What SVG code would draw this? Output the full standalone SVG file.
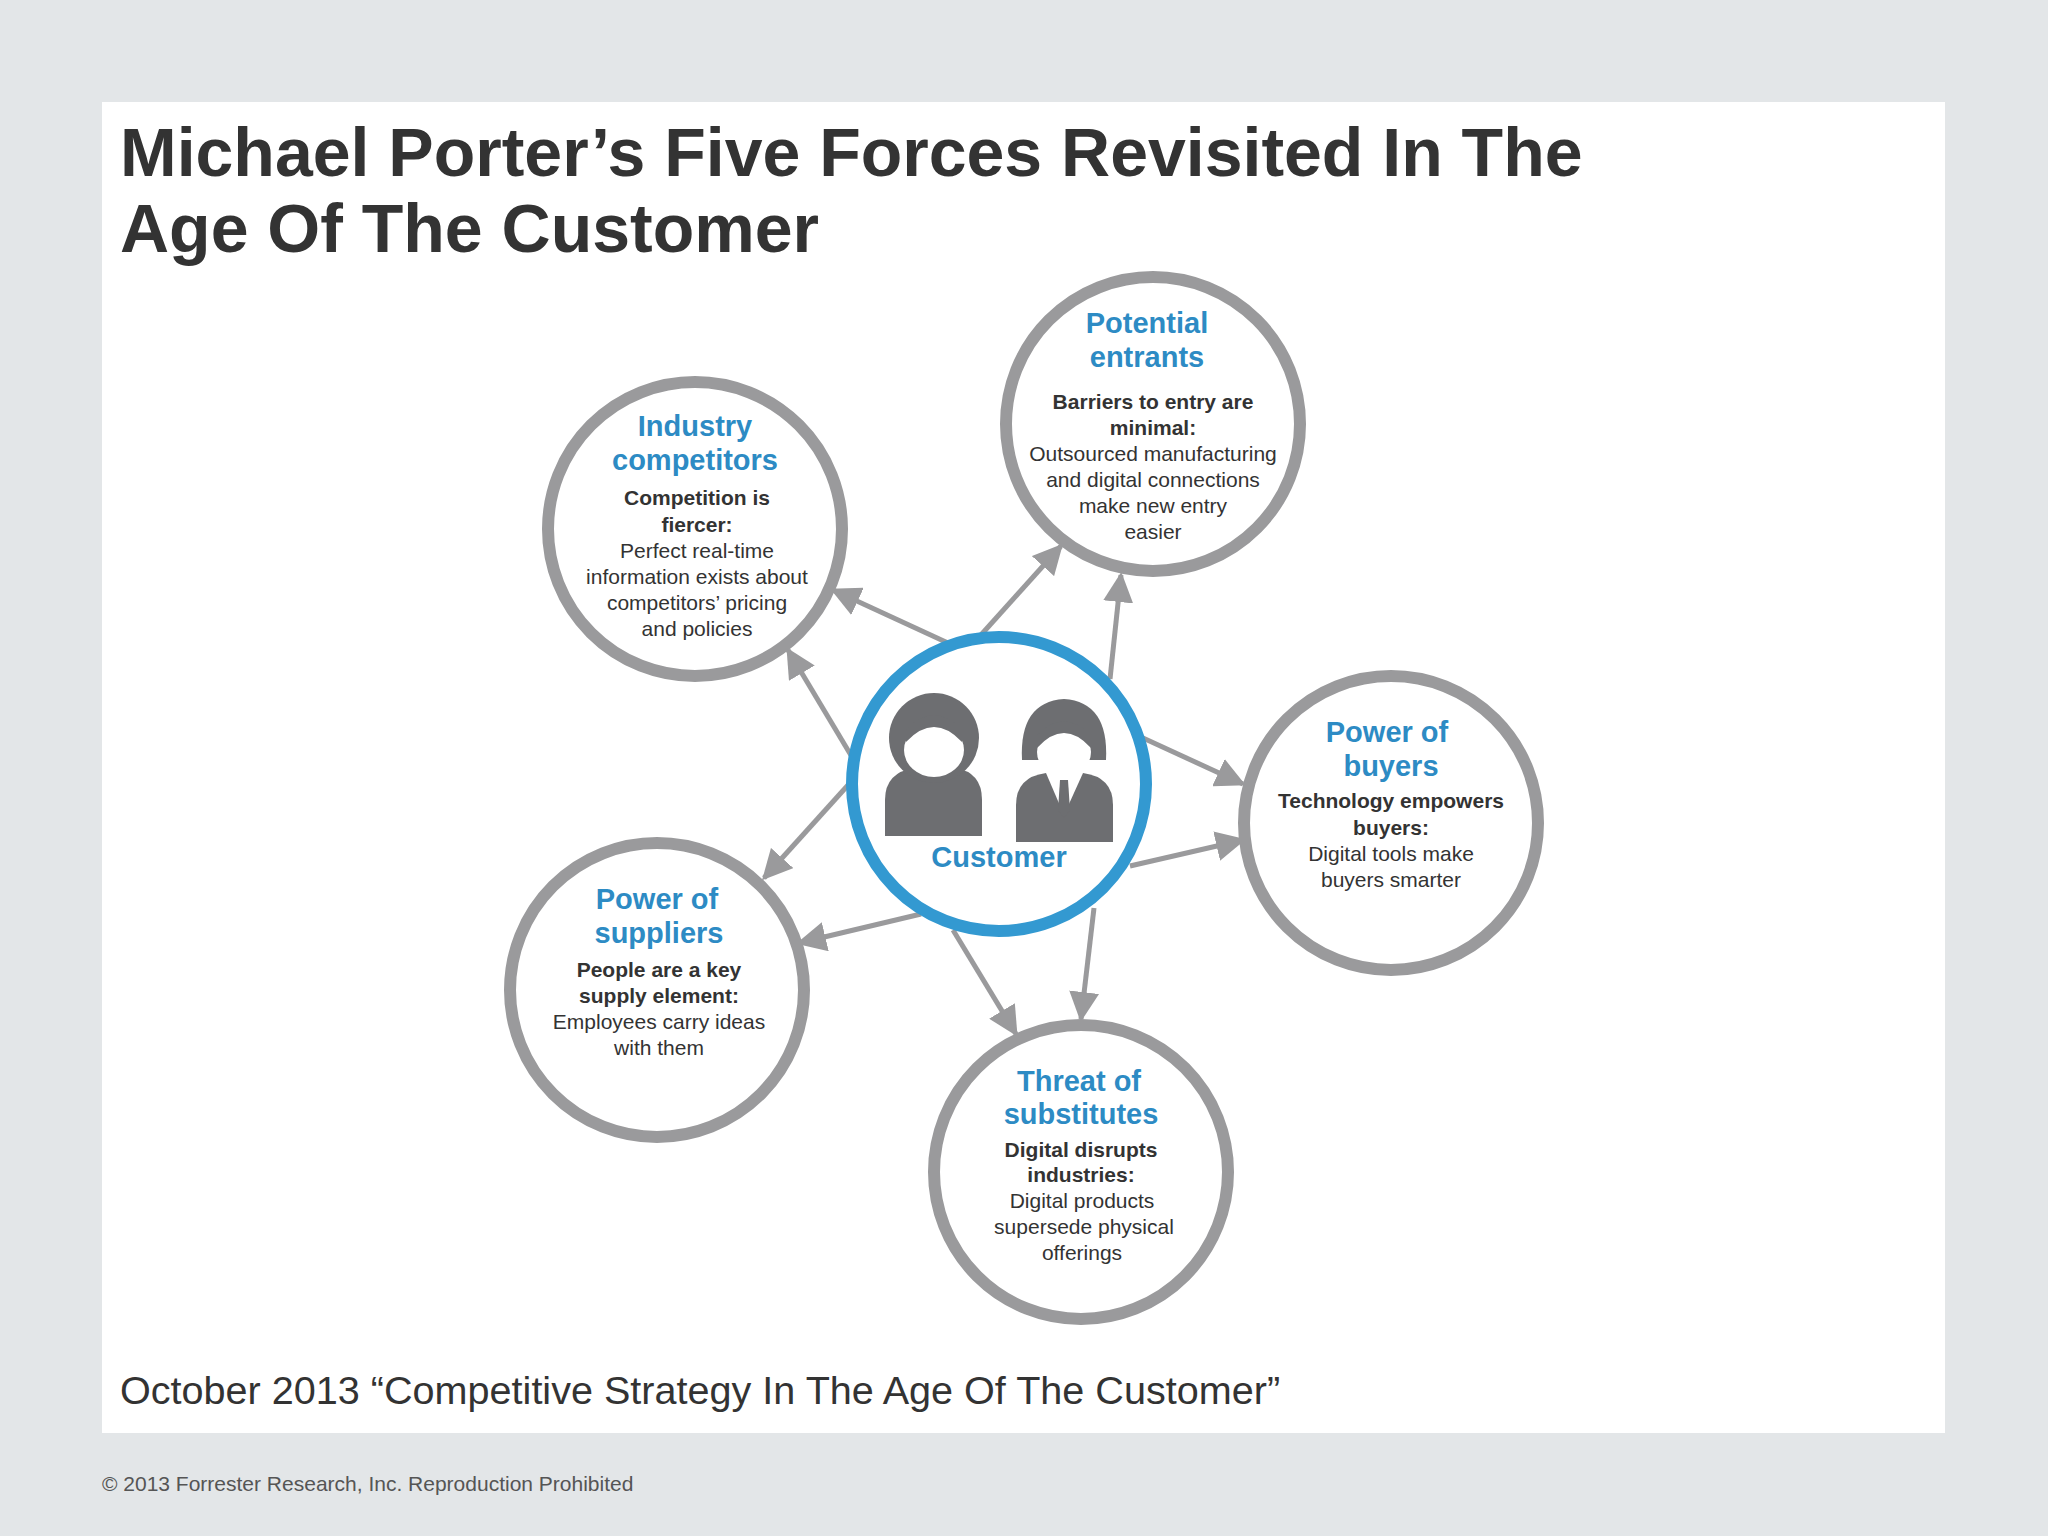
<svg xmlns="http://www.w3.org/2000/svg" width="2048" height="1536" viewBox="0 0 2048 1536">
<defs>
<style>
.ring{fill:#fff;stroke:#9a9a9c;stroke-width:12}
.h{font-family:"Liberation Sans",Arial,sans-serif;font-weight:bold;font-size:29px;fill:#2d8bc4;text-anchor:middle}
.b{font-family:"Liberation Sans",Arial,sans-serif;font-weight:bold;font-size:21px;fill:#333;text-anchor:middle}
.t{font-family:"Liberation Sans",Arial,sans-serif;font-size:21px;fill:#333;text-anchor:middle}
.c{stroke:#9a9a9c;stroke-width:5;fill:none;marker-end:url(#ah)}
</style>
<marker id="ah" viewBox="0 0 10 10" refX="9" refY="5" markerWidth="6" markerHeight="6" orient="auto" markerUnits="strokeWidth"><path d="M0,0L10,5L0,10z" fill="#9a9a9c"/></marker>
</defs>
<rect width="2048" height="1536" fill="#e3e6e8"/>
<rect x="102" y="102" width="1843" height="1331" fill="#fff"/>
<g id="title" font-family="Liberation Sans,Arial,sans-serif" font-weight="bold" font-size="68" fill="#333">
<text x="120" y="176">Michael Porter’s Five Forces Revisited In The</text>
<text x="120" y="252">Age Of The Customer</text>
</g>
<g id="connectors">
<line class="c" x1="948" y1="643" x2="833" y2="590"/>
<line class="c" x1="852" y1="757" x2="788" y2="650"/>
<line class="c" x1="980" y1="636" x2="1061" y2="546"/>
<line class="c" x1="1110" y1="679" x2="1121" y2="575"/>
<line class="c" x1="1143" y1="738" x2="1243" y2="784"/>
<line class="c" x1="1130" y1="866" x2="1243" y2="840"/>
<line class="c" x1="1094" y1="908" x2="1081" y2="1019"/>
<line class="c" x1="953" y1="930" x2="1016" y2="1034"/>
<line class="c" x1="921" y1="914" x2="799" y2="943"/>
<line class="c" x1="849" y1="784" x2="764" y2="878"/>
</g>
<g id="industry">
<circle class="ring" cx="695" cy="529" r="147"/>
<text class="h" x="695" y="436">Industry</text><text class="h" x="695" y="470">competitors</text>
<text class="b" x="697" y="505">Competition is</text><text class="b" x="697" y="532">fiercer:</text>
<text class="t" x="697" y="558">Perfect real-time</text><text class="t" x="697" y="584">information exists about</text><text class="t" x="697" y="610">competitors’ pricing</text><text class="t" x="697" y="636">and policies</text>
</g>
<g id="entrants">
<circle class="ring" cx="1153" cy="424" r="147"/>
<text class="h" x="1147" y="333">Potential</text><text class="h" x="1147" y="367">entrants</text>
<text class="b" x="1153" y="409">Barriers to entry are</text><text class="b" x="1153" y="435">minimal:</text>
<text class="t" x="1153" y="461">Outsourced manufacturing</text><text class="t" x="1153" y="487">and digital connections</text><text class="t" x="1153" y="513">make new entry</text><text class="t" x="1153" y="539">easier</text>
</g>
<g id="buyers">
<circle class="ring" cx="1391" cy="823" r="147"/>
<text class="h" x="1387" y="742">Power of</text><text class="h" x="1391" y="776">buyers</text>
<text class="b" x="1391" y="808">Technology empowers</text><text class="b" x="1391" y="835">buyers:</text>
<text class="t" x="1391" y="861">Digital tools make</text><text class="t" x="1391" y="887">buyers smarter</text>
</g>
<g id="suppliers">
<circle class="ring" cx="657" cy="990" r="147"/>
<text class="h" x="657" y="909">Power of</text><text class="h" x="659" y="943">suppliers</text>
<text class="b" x="659" y="977">People are a key</text><text class="b" x="659" y="1003">supply element:</text>
<text class="t" x="659" y="1029">Employees carry ideas</text><text class="t" x="659" y="1055">with them</text>
</g>
<g id="substitutes">
<circle class="ring" cx="1081" cy="1172" r="147"/>
<text class="h" x="1079" y="1091">Threat of</text><text class="h" x="1081" y="1124">substitutes</text>
<text class="b" x="1081" y="1157">Digital disrupts</text><text class="b" x="1081" y="1182">industries:</text>
<text class="t" x="1082" y="1208">Digital products</text><text class="t" x="1084" y="1234">supersede physical</text><text class="t" x="1082" y="1260">offerings</text>
</g>
<g id="customer">
<circle cx="999" cy="784" r="147" fill="#fff" stroke="#3399d1" stroke-width="12"/>
<path d="M885,836 L885,800 Q885,772 915,768 L955,768 Q982,772 982,800 L982,836 Z" fill="#6d6e71"/>
<circle cx="934" cy="738" r="45" fill="#6d6e71"/>
<ellipse cx="934" cy="750" rx="30" ry="27" fill="#fff"/>
<path d="M906,742 Q934,712 962,742 L962,730 Q934,700 906,730 Z" fill="#6d6e71"/>
<path d="M1016,842 L1016,805 Q1016,777 1046,773 L1083,773 Q1113,777 1113,805 L1113,842 Z" fill="#6d6e71"/>
<path d="M1046,773 L1064,815 L1083,773 Z" fill="#fff"/>
<path d="M1060,780 L1068,780 L1070,810 L1064,818 L1058,810 Z" fill="#6d6e71"/>
<path d="M1022,760 Q1019,702 1064,699 Q1109,702 1106,760 Z" fill="#6d6e71"/>
<ellipse cx="1064" cy="752" rx="27" ry="25" fill="#fff"/>
<path d="M1037,748 Q1064,718 1091,748 L1091,735 Q1064,708 1037,735 Z" fill="#6d6e71"/>
<text class="h" x="999" y="867">Customer</text>
</g>
<g id="footer" font-family="Liberation Sans,Arial,sans-serif">
<text x="120" y="1404" font-size="39.6" fill="#333">October 2013 “Competitive Strategy In The Age Of The Customer”</text>
<text x="102" y="1491" font-size="21" fill="#555">© 2013 Forrester Research, Inc. Reproduction Prohibited</text>
</g>
</svg>
